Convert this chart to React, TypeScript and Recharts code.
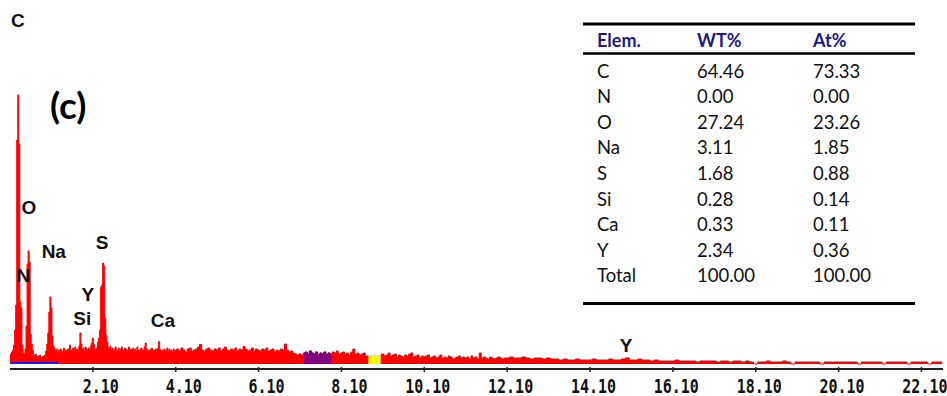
import { AreaChart, Area, XAxis, YAxis, ReferenceDot, ReferenceLine } from 'recharts'

// EDS spectrum, counts per channel (10 counts ~ 1px)
// segment A: 0.10 keV, step 0.025 keV
const SEG_A_START = 0.1
const SEG_A_STEP = 0.025
const SEG_A = [
  80, 100, 120, 140, 190, 340, 590, 2240, 2690, 2200,
  620, 560, 190, 110, 90, 150, 380, 1000, 1130, 1020,
  300, 200, 140, 90, 70, 100, 60, 80, 50, 90,
  70, 50, 80, 60, 90, 130, 200, 310, 520, 670,
  560, 280, 180, 160, 120, 150, 110, 140, 120, 150,
  110, 130, 160, 120, 140, 110, 150, 130, 190, 140,
  120, 160, 130, 170, 140, 150, 130, 180, 310, 200,
  140, 160, 130, 170, 150, 140, 160, 150, 180, 210,
  260, 200, 150, 140, 160, 220, 260, 340, 770, 790,
  1010, 980, 460, 290, 220, 170, 150, 180, 140, 160,
  130, 150, 170, 130, 140, 160, 120, 150, 170, 140,
  130, 160, 150, 120, 140, 170, 130, 150, 140, 160,
  120, 150, 130, 170, 140, 120, 150, 160, 130, 140,
  170, 210, 150, 130, 140, 120, 150, 160, 130, 140,
  120, 150, 130, 160, 225, 150, 130, 140, 120, 150,
  130, 140, 160, 120, 150, 130, 140, 120, 150, 130,
]

// segment B: 4.10 keV, step 0.05 keV
const SEG_B_START = 4.1
const SEG_B_STEP = 0.05
const SEG_B = [
  140, 150, 130, 160, 140, 120, 150, 160, 130, 140,
  150, 170, 195, 140, 130, 150, 160, 140, 130, 150,
  140, 160, 130, 150, 170, 140, 130, 150, 140, 160,
  130, 150, 140, 175, 150, 130, 140, 160, 130, 150,
  140, 130, 150, 140, 160, 130, 140, 150, 120, 140,
  130, 150, 140, 200, 140, 120, 130, 110, 100, 90,
  100, 90, 110, 120, 100, 130, 110, 100, 120, 90,
  110, 100, 120, 95, 110, 100, 120, 110, 130, 100,
  110, 120, 100, 110, 90, 120, 150, 100, 110, 90,
  100, 110, 80, 80, 70, 85, 80, 75, 80, 90,
  100, 80, 90, 110, 80, 90, 100, 70, 90, 80,
  70, 90, 80, 100, 110, 70, 80, 90, 60, 80,
  70, 80, 90, 60, 70, 80, 60, 70, 90, 60,
  70, 60, 80, 70, 50, 60, 70, 80, 60, 70,
  60, 70, 50, 80, 60, 70, 50, 110, 60, 70,
  60, 50, 70, 60, 50, 60, 70, 60, 50, 60,
]

// segment C: 12.10 keV, step 0.1 keV
const SEG_C_START = 12.1
const SEG_C_STEP = 0.1
const SEG_C = [
  60, 70, 60, 60, 70, 60, 50, 60, 60, 50,
  60, 50, 50, 40, 50, 40, 40, 50, 40, 40,
  40, 50, 40, 40, 40, 50, 40, 40, 50, 60,
  40, 40, 50, 40, 40, 30, 40, 30, 30, 30,
  30, 40, 30, 30, 30, 30, 20, 30, 30, 30,
  30, 20, 30, 30, 20, 30, 30, 20, 30, 20,
  0, 20, 20, 30, 20, 20, 20, 30, 20, 0,
  20, 20, 20, 20, 20, 20, 0, 20, 20, 20,
  20, 20, 20, 20, 20, 0, 20, 20, 20, 20,
  20, 0, 20, 20, 20, 20, 20, 0, 20, 20,
  20, 20, 0, 20, 20, 20,
]

// highlighted windows (keV)
const PURPLE_KEV = [7.2, 7.85]
const YELLOW_KEV = [8.74, 9.06]
const BLUE_MARK_KEV = [0.13, 1.26]

const X_TICKS = [2.1, 4.1, 6.1, 8.1, 10.1, 12.1, 14.1, 16.1, 18.1, 20.1, 22.1]

// peak labels
const PEAK_NAMES = ['C', 'O', 'N', 'Na', 'S', 'Y', 'Si', 'Ca', 'Y']
const PEAK_KEV = [0.288, 0.554, 0.421, 1.157, 2.325, 1.978, 1.843, 3.793, 14.97]
const PEAK_LABEL_COUNTS = [3440, 1565, 888, 1123, 1220, 700, 455, 440, 187]

// quantification table
const ELEMENTS = ['C', 'N', 'O', 'Na', 'S', 'Si', 'Ca', 'Y', 'Total']
const WT_PCT = [64.46, 0.0, 27.24, 3.11, 1.68, 0.28, 0.33, 2.34, 100.0]
const AT_PCT = [73.33, 0.0, 23.26, 1.85, 0.88, 0.14, 0.11, 0.36, 100.0]

const round3 = (v: number) => Math.round(v * 1000) / 1000
const inRange = (v: number, r: number[]) => v >= r[0] && v <= r[1]

const points = [
  ...SEG_A.map((c, i) => ({ kev: round3(SEG_A_START + i * SEG_A_STEP), counts: c })),
  ...SEG_B.map((c, i) => ({ kev: round3(SEG_B_START + i * SEG_B_STEP), counts: c })),
  ...SEG_C.map((c, i) => ({ kev: round3(SEG_C_START + i * SEG_C_STEP), counts: c })),
]

const data = points.map((p) => ({
  ...p,
  purple: inRange(p.kev, PURPLE_KEV) ? p.counts : null,
  yellow: inRange(p.kev, YELLOW_KEV) ? p.counts : null,
}))

const AxisTick = ({ x, y, payload }: any) => (
  <g>
    <line x1={x} x2={x} y1={y - 2} y2={y + 3} stroke="#222" strokeWidth={1.5} />
    <text
      x={0}
      y={0}
      transform={`translate(${x + 26}, ${y + 24}) scale(1, 1.3)`}
      textAnchor="end"
      fontFamily="DejaVu Sans Mono"
      fontWeight="bold"
      fontSize={15}
      fill="#111"
    >
      {Number(payload.value).toFixed(2)}
    </text>
  </g>
)

const NAVY = '#1c1a85'
const COLS = [597, 697, 813]

export default function App() {
  return (
    <div style={{ position: 'absolute', left: 0, top: 0, width: 947, height: 396, background: '#fff' }}>
      <AreaChart
        width={947}
        height={396}
        data={data}
        margin={{ top: 9, right: 4, bottom: 0, left: 10 }}
      >
        <XAxis
          dataKey="kev"
          type="number"
          domain={[0.1, 22.62]}
          ticks={X_TICKS}
          allowDataOverflow
          height={27}
          tickSize={0}
          tickMargin={0}
          tickLine={false}
          axisLine={{ stroke: '#222', strokeWidth: 2 }}
          tick={<AxisTick />}
          interval={0}
        />
        <YAxis hide type="number" domain={[-50, 3550]} allowDataOverflow />

        <Area
          type="step"
          dataKey="counts"
          stroke="#ff0000"
          strokeWidth={1}
          fill="#ff0000"
          fillOpacity={1}
          dot={false}
          activeDot={false}
          isAnimationActive={false}
        />
        <Area
          type="step"
          dataKey="purple"
          stroke="#800080"
          strokeWidth={1}
          fill="#800080"
          fillOpacity={1}
          dot={false}
          activeDot={false}
          connectNulls={false}
          isAnimationActive={false}
        />
        <Area
          type="step"
          dataKey="yellow"
          stroke="#ffff00"
          strokeWidth={1}
          fill="#ffff00"
          fillOpacity={1}
          dot={false}
          activeDot={false}
          connectNulls={false}
          isAnimationActive={false}
        />

        <ReferenceLine
          segment={[
            { x: BLUE_MARK_KEV[0], y: 13 },
            { x: BLUE_MARK_KEV[1], y: 13 },
          ]}
          stroke="#0000ff"
          strokeWidth={1.5}
        />

        {PEAK_NAMES.map((name, i) => (
          <ReferenceDot
            key={`${name}-${i}`}
            x={PEAK_KEV[i]}
            y={PEAK_LABEL_COUNTS[i]}
            r={0}
            fill="none"
            stroke="none"
            ifOverflow="visible"
            label={{
              value: name,
              position: 'center',
              fill: '#111',
              fontSize: 19,
              fontWeight: 'bold',
              fontFamily: 'Liberation Sans',
            }}
          />
        ))}
      </AreaChart>

      <svg
        width={947}
        height={396}
        style={{ position: 'absolute', left: 0, top: 0, pointerEvents: 'none' }}
      >
        <text x={50} y={119} fontFamily="Lato" fontWeight="bold" fontSize={37} fill="#000">
          (c)
        </text>

        <line x1={583} x2={915} y1={24} y2={24} stroke="#000" strokeWidth={3} />
        <line x1={583} x2={915} y1={53.5} y2={53.5} stroke="#000" strokeWidth={2.5} />
        <line x1={583} x2={915} y1={303.5} y2={303.5} stroke="#000" strokeWidth={3} />

        {['Elem.', 'WT%', 'At%'].map((h, i) => (
          <text key={h} x={COLS[i]} y={47} fontFamily="Lato" fontWeight="bold" fontSize={18} fill={NAVY}>
            {h}
          </text>
        ))}

        {ELEMENTS.map((el, r) => {
          const y = 77.5 + r * 25.6
          return (
            <g key={el} fontFamily="Lato" fontSize={18.5} fill="#111">
              <text x={COLS[0]} y={y}>{el}</text>
              <text x={COLS[1]} y={y}>{WT_PCT[r].toFixed(2)}</text>
              <text x={COLS[2]} y={y}>{AT_PCT[r].toFixed(2)}</text>
            </g>
          )
        })}
      </svg>
    </div>
  )
}
